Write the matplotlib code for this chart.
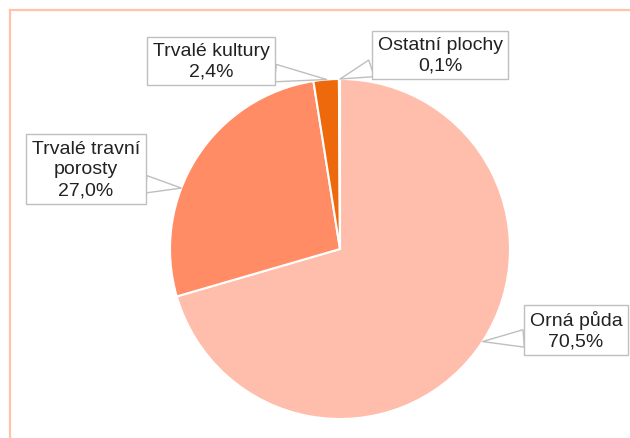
import numpy as np
import matplotlib.pyplot as plt
from matplotlib.lines import Line2D

W, H = 630, 439

LABELS = ["Orná půda", "Trvalé travní\nporosty", "Trvalé kultury", "Ostatní plochy"]
VALUES = [70.5, 27.0, 2.4, 0.1]
COLORS = ["#FFBDAB", "#FF8C65", "#EE690C", "#B84A00"]

# label box centres (pixels from top-left) and leader tip angles on the pie edge
LABEL_POS = [(576, 331), (86, 170), (211, 62), (440, 56)]
TIP_ANGLES = [-33, 159, 94.5, 90]
REL_POS = [(0.0, 0.3), (1.0, 0.25), (1.0, 0.2), (0.0, 0.2)]

CENTER = (340, H - 250)
RADIUS = 170

plt.rcParams["font.family"] = ["Liberation Sans", "DejaVu Sans"]

fig = plt.figure(figsize=(W / 100, H / 100), dpi=100)
ax = fig.add_axes([0, 0, 1, 1])

wedges, _ = ax.pie(
    VALUES, colors=COLORS, startangle=90, counterclock=False,
    center=CENTER, radius=RADIUS,
    wedgeprops=dict(edgecolor="white", linewidth=1.5),
)
ax.set_xlim(0, W)
ax.set_ylim(0, H)
ax.set_aspect("equal")
ax.axis("off")

for lab, val, (lx, ly), ang, rp in zip(LABELS, VALUES, LABEL_POS, TIP_ANGLES, REL_POS):
    t = np.deg2rad(ang)
    tip = (CENTER[0] + RADIUS * np.cos(t), CENTER[1] + RADIUS * np.sin(t))
    txt = f"{lab}\n{val:.1f}%".replace(".", ",")
    ax.annotate(
        txt, xy=tip, xytext=(lx, H - ly),
        ha="center", va="center", fontsize=14, color="#222222",
        linespacing=1.3,
        bbox=dict(boxstyle="square,pad=0.28", fc="white", ec="#BFBFBF", lw=1),
        arrowprops=dict(arrowstyle="wedge,tail_width=0.9,shrink_factor=0.5",
                        fc="white", ec="#BFBFBF", lw=1,
                        shrinkA=0, shrinkB=0, relpos=rp),
    )

# outer frame (top and left edges visible)
ax.add_line(Line2D([10, W], [H - 11, H - 11], color="#FFC3AA", lw=1.6))
ax.add_line(Line2D([10, 10], [H - 11, 0], color="#FFC3AA", lw=1.6))

fig.savefig("out.png", dpi=100)
